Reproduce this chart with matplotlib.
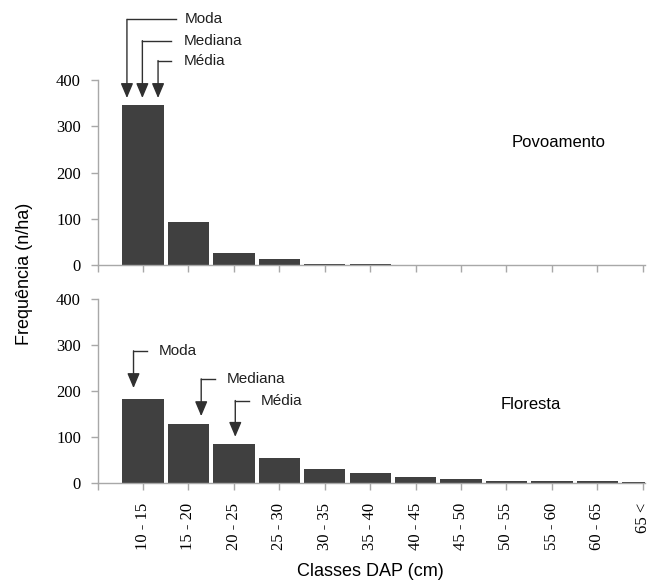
import matplotlib
matplotlib.use("Agg")
import matplotlib.pyplot as plt

# ===== DADOS =====
classes = ["10 - 15", "15 - 20", "20 - 25", "25 - 30", "30 - 35", "35 - 40",
           "40 - 45", "45 - 50", "50 - 55", "55 - 60", "60 - 65", "65 <"]
povoamento = [346, 93, 27, 12, 3, 3, 0, 0, 0, 0, 0, 0]
floresta = [184, 130, 85, 54, 31, 22, 14, 9, 5, 5, 5, 2]

bar_color = "#404040"
spine_color = "#a8a8a8"
line_color = "#303030"
sans = "Liberation Sans"
serif = "Liberation Serif"

fig = plt.figure(figsize=(6.57, 5.84), dpi=100)
ax_top = fig.add_axes([0.1486, 0.5462, 0.8332, 0.3168])
ax_bot = fig.add_axes([0.1486, 0.1724, 0.8332, 0.3151])


def style_axis(ax, values, show_labels):
    pos = list(range(len(values)))
    ax.bar(pos, values, width=0.91, color=bar_color, edgecolor="none")
    ax.set_xlim(-1, len(values) - 0.95)
    ax.set_ylim(0, 400)
    ax.set_yticks([0, 100, 200, 300, 400])
    ax.set_xticks([-1] + pos)
    if show_labels:
        ax.set_xticklabels([""] + classes, rotation=90, family=serif, fontsize=12)
    else:
        ax.set_xticklabels([])
    for lab in ax.get_yticklabels():
        lab.set_family(serif)
        lab.set_fontsize(12)
    for s in ["top", "right"]:
        ax.spines[s].set_visible(False)
    for s in ["left", "bottom"]:
        ax.spines[s].set_color(spine_color)
        ax.spines[s].set_linewidth(1)
    ax.tick_params(axis="both", color=spine_color, length=5, width=1, labelcolor="black")
    ax.tick_params(axis="y", pad=7)
    ax.tick_params(axis="x", pad=9)


def seta(ax, x, y_top, y_tip, x_end, x_text, label):
    # linha horizontal + vertical com ponta de seta
    ax.plot([x, x_end], [y_top, y_top], color=line_color, lw=1, clip_on=False)
    ax.annotate("", xy=(x, y_tip), xytext=(x, y_top), annotation_clip=False,
                arrowprops=dict(arrowstyle="-|>,head_length=0.9,head_width=0.38",
                                color=line_color, lw=1, shrinkA=0, shrinkB=0))
    ax.text(x_text, y_top, label, family=sans, fontsize=11, va="center", ha="left",
            color="#202020", clip_on=False)


style_axis(ax_top, povoamento, False)
style_axis(ax_bot, floresta, True)

# ===== ANOTAÇÕES =====
seta(ax_top, -0.355, 531, 361, 0.72, 0.92, "Moda")
seta(ax_top, -0.015, 485, 361, 0.62, 0.89, "Mediana")
seta(ax_top, 0.33, 442, 361, 0.62, 0.89, "Média")

seta(ax_bot, -0.21, 288, 207, 0.08, 0.35, "Moda")
seta(ax_bot, 1.28, 227, 146, 1.59, 1.84, "Mediana")
seta(ax_bot, 2.03, 180, 101, 2.34, 2.59, "Média")

ax_top.text(8.12, 264, "Povoamento", family=sans, fontsize=12, va="center", ha="left")
ax_bot.text(7.88, 172, "Floresta", family=sans, fontsize=12, va="center", ha="left")

fig.text(0.038, 0.531, "Frequência (n/ha)", family=sans, fontsize=13, rotation=90,
         va="center", ha="center")
fig.text(0.563, 0.022, "Classes DAP (cm)", family=sans, fontsize=13,
         va="center", ha="center")

fig.savefig("out.png", dpi=100)
